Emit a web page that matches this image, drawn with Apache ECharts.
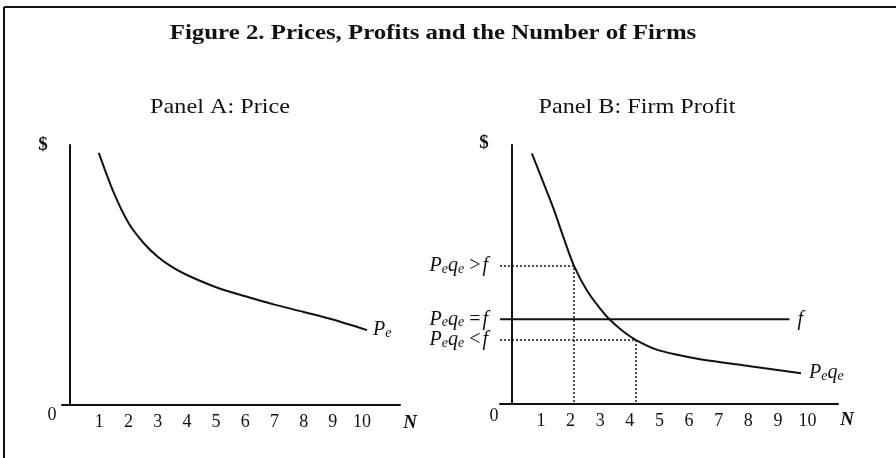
<!DOCTYPE html>
<html>
<head>
<meta charset="utf-8">
<script src="https://cdn.jsdelivr.net/npm/echarts@6/dist/echarts.min.js"></script>
<style>
  html, body { margin: 0; background: #fff; }
  #chart { width: 896px; height: 458px; }
</style>
</head>
<body>
<div id="chart"></div>
<script>
  // N axis ticks (both panels)
  const nTicks = [1, 2, 3, 4, 5, 6, 7, 8, 9, 10];

  // Panel A: price curve (N, $)
  const priceN = [0.98, 1.5, 2, 2.5, 3, 3.5, 4, 5, 6, 7, 8, 9, 10.17];
  const priceVal = [97, 81.5, 70, 62.5, 57, 53, 50, 45.3, 41.8, 38.6, 35.8, 32.9, 28.8];

  // Panel B: firm profit curve (N, $)
  const profitN = [0.69, 1.08, 1.42, 1.75, 2.115, 2.54, 2.99, 3.31, 3.78, 4.21, 4.91, 5.6, 6.37, 8.06, 9.78];
  const profitVal = [96.8, 85.5, 75.5, 64.6, 53.3, 44, 36.9, 32.7, 28, 24.7, 21, 19, 17.3, 14.6, 11.9];

  // fixed cost line f and the two reference levels
  const fixedCost = 32.7;
  const fixedCostEnd = 9.39;
  const levelN = [2.115, 4.21];
  const levelVal = [53.3, 24.7];
  const axisLevels = [53.3, 32.7, 24.7];
  const axisSigns = ['>', '=', '<'];

  const minA = -0.28, maxA = 11.3;
  const minB = -0.385, maxB = 11.03;

  const serif = '"Liberation Serif", "DejaVu Serif", serif';
  const ink = '#111';

  const rich = {
    p: { fontFamily: serif, fontStyle: 'italic', fontSize: 20, lineHeight: 20, color: ink },
    s: { fontFamily: serif, fontStyle: 'italic', fontSize: 14, verticalAlign: 'bottom', color: ink },
    o: { fontFamily: serif, fontSize: 20, lineHeight: 20, color: ink, padding: [0, 2, 0, 5] }
  };

  const xAxisBase = (idx, min, max) => ({
    type: 'value', gridIndex: idx, min: min, max: max,
    splitLine: { show: false },
    axisLine: { lineStyle: { color: ink, width: 2 } },
    axisTick: { show: false },
    axisLabel: {
      customValues: nTicks, margin: 8,
      fontFamily: serif, fontSize: 18, color: ink
    }
  });

  const chart = echarts.init(document.getElementById('chart'));

  const option = {
    animation: false,
    backgroundColor: '#fff',
    grid: [
      { left: 62, top: 145, width: 338, height: 260 },
      { left: 500, top: 145, width: 338, height: 259 }
    ],
    xAxis: [xAxisBase(0, minA, maxA), xAxisBase(1, minB, maxB)],
    yAxis: [
      {
        type: 'value', gridIndex: 0, min: 0, max: 100,
        splitLine: { show: false }, axisTick: { show: false }, axisLabel: { show: false },
        axisLine: { show: true, lineStyle: { color: ink, width: 2 } }
      },
      {
        type: 'value', gridIndex: 1, min: 0, max: 100,
        splitLine: { show: false }, axisTick: { show: false },
        axisLine: { show: true, lineStyle: { color: ink, width: 2 } },
        axisLabel: {
          customValues: axisLevels, margin: 12, rich: rich,
          formatter: function (v) {
            let i = 0;
            axisLevels.forEach((l, k) => { if (Math.abs(l - v) < Math.abs(axisLevels[i] - v)) i = k; });
            return '{p|P}{s|e}{p|q}{s|e}{o|' + axisSigns[i] + '}{p|f}';
          }
        }
      }
    ],
    series: [
      {
        type: 'line', xAxisIndex: 0, yAxisIndex: 0, smooth: 0.3, symbol: 'none',
        lineStyle: { color: ink, width: 2 },
        data: priceN.map((n, i) => [n, priceVal[i]]),
        endLabel: { show: true, distance: 6, formatter: '{p|P}{s|e}', rich: rich }
      },
      {
        type: 'line', xAxisIndex: 1, yAxisIndex: 1, smooth: 0.3, symbol: 'none',
        lineStyle: { color: ink, width: 2 },
        data: profitN.map((n, i) => [n, profitVal[i]]),
        endLabel: { show: true, distance: 8, formatter: '{p|P}{s|e}{p|q}{s|e}', rich: rich }
      },
      {
        type: 'line', xAxisIndex: 1, yAxisIndex: 1, symbol: 'none',
        lineStyle: { color: ink, width: 2 },
        data: [[minB, fixedCost], [fixedCostEnd, fixedCost]],
        endLabel: { show: true, distance: 8, formatter: '{p|f}', rich: rich }
      },
      ...levelN.map((n, i) => ({
        type: 'line', xAxisIndex: 1, yAxisIndex: 1, symbol: 'none',
        lineStyle: { color: ink, width: 1.5, type: [2, 2] },
        data: [[minB, levelVal[i]], [n, levelVal[i]], [n, 0]]
      }))
    ],
    graphic: [
      { type: 'line', shape: { x1: 4, y1: 7, x2: 896, y2: 7 }, style: { stroke: ink, lineWidth: 2 } },
      { type: 'line', shape: { x1: 4, y1: 7, x2: 4, y2: 458 }, style: { stroke: ink, lineWidth: 2 } },
      { type: 'text', x: 433, y: 33, scaleX: 1.13, style: { text: 'Figure 2. Prices, Profits and the Number of Firms', fontFamily: serif, fontWeight: 'bold', fontSize: 22, fill: ink, align: 'center', verticalAlign: 'middle' } },
      { type: 'text', x: 220, y: 107, scaleX: 1.1, style: { text: 'Panel A: Price', fontFamily: serif, fontSize: 22, fill: ink, align: 'center', verticalAlign: 'middle' } },
      { type: 'text', x: 637, y: 107, scaleX: 1.1, style: { text: 'Panel B: Firm Profit', fontFamily: serif, fontSize: 22, fill: ink, align: 'center', verticalAlign: 'middle' } },
      { type: 'text', x: 43, y: 145, style: { text: '$', fontFamily: serif, fontWeight: 'bold', fontSize: 19, fill: ink, align: 'center', verticalAlign: 'middle' } },
      { type: 'text', x: 484, y: 143, style: { text: '$', fontFamily: serif, fontWeight: 'bold', fontSize: 19, fill: ink, align: 'center', verticalAlign: 'middle' } },
      { type: 'text', x: 52, y: 415, style: { text: '0', fontFamily: serif, fontSize: 18, fill: ink, align: 'center', verticalAlign: 'middle' } },
      { type: 'text', x: 494, y: 416, style: { text: '0', fontFamily: serif, fontSize: 18, fill: ink, align: 'center', verticalAlign: 'middle' } },
      { type: 'text', x: 410, y: 423, style: { text: 'N', fontFamily: serif, fontWeight: 'bold', fontStyle: 'italic', fontSize: 19, fill: ink, align: 'center', verticalAlign: 'middle' } },
      { type: 'text', x: 847, y: 420, style: { text: 'N', fontFamily: serif, fontWeight: 'bold', fontStyle: 'italic', fontSize: 19, fill: ink, align: 'center', verticalAlign: 'middle' } }
    ]
  };

  chart.setOption(option);
</script>
</body>
</html>
